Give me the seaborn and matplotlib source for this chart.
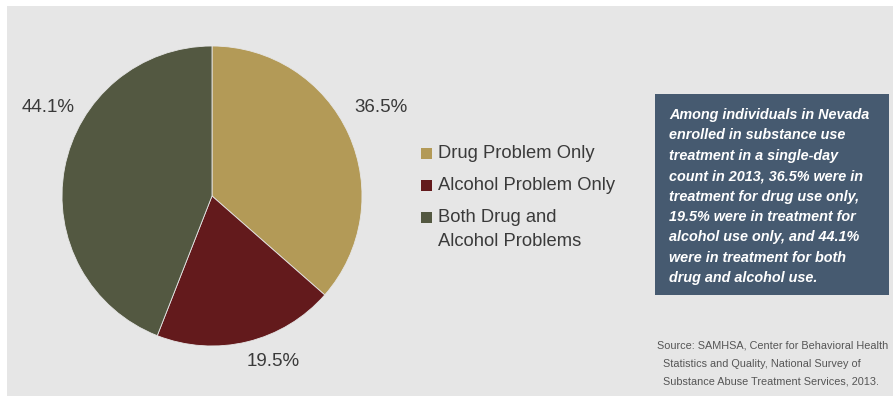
import matplotlib
matplotlib.use("Agg")
import matplotlib.pyplot as plt
from matplotlib.patches import Rectangle
import seaborn as sns

categories = ["Drug Problem Only", "Alcohol Problem Only", "Both Drug and\nAlcohol Problems"]
shares = [36.5, 19.5, 44.1]
pct_labels = ["36.5%", "19.5%", "44.1%"]
colors = ["#b39a57", "#631a1c", "#535841"]

box_lines = [
    "Among individuals in Nevada",
    "enrolled in substance use",
    "treatment in a single-day",
    "count in 2013, 36.5% were in",
    "treatment for drug use only,",
    "19.5% were in treatment for",
    "alcohol use only, and 44.1%",
    "were in treatment for both",
    "drug and alcohol use.",
]
source_lines = [
    "Source: SAMHSA, Center for Behavioral Health",
    "  Statistics and Quality, National Survey of",
    "  Substance Abuse Treatment Services, 2013.",
]

sns.set_style("white")
plt.rcParams["font.family"] = ["Liberation Sans", "DejaVu Sans"]

W, H = 895, 397
fig = plt.figure(figsize=(W / 100, H / 100), dpi=100)
fig.patch.set_facecolor("white")
ax = fig.add_axes([0, 0, 1, 1])

def Y(py):
    return H - py

# background panel
ax.add_patch(Rectangle((7, Y(396)), 886, 390, facecolor="#e6e6e6", edgecolor="none", zorder=0))

ax.pie(shares, colors=colors, startangle=90, counterclock=False,
       center=(212, Y(196)), radius=150, frame=True,
       wedgeprops=dict(linewidth=0.6, edgecolor="#e6e6e6"))

txt_col = "#3a3a3a"
label_pos = [(381, 108), (273, 361), (48, 108)]
for (px, py), lab in zip(label_pos, pct_labels):
    ax.text(px, Y(py), lab, ha="center", va="center", fontsize=13.5, color=txt_col)

# legend
leg_y = [153, 185, 217]
for cy, col, cat in zip(leg_y, colors, categories):
    ax.add_patch(Rectangle((421, Y(cy) - 5.5), 11, 11, facecolor=col, edgecolor="none"))
    lines = cat.split("\n")
    for j, l in enumerate(lines):
        ax.text(438, Y(cy + 24 * j), l, ha="left", va="center", fontsize=13.2, color=txt_col)

# info box
ax.add_patch(Rectangle((655, Y(295)), 234, 201, facecolor="#465a70", edgecolor="none"))
for i, line in enumerate(box_lines):
    ax.text(669, Y(115 + i * 20.4), line, ha="left", va="center", fontsize=10.4,
            color="white", fontweight="bold", fontstyle="italic")

# source
for i, line in enumerate(source_lines):
    ax.text(657, Y(346 + i * 18), line, ha="left", va="center", fontsize=7.8,
            color="#555555")

ax.set_xlim(0, W)
ax.set_ylim(0, H)
ax.set_aspect("auto")
ax.axis("off")

fig.savefig("out.png", dpi=100, facecolor="white")
